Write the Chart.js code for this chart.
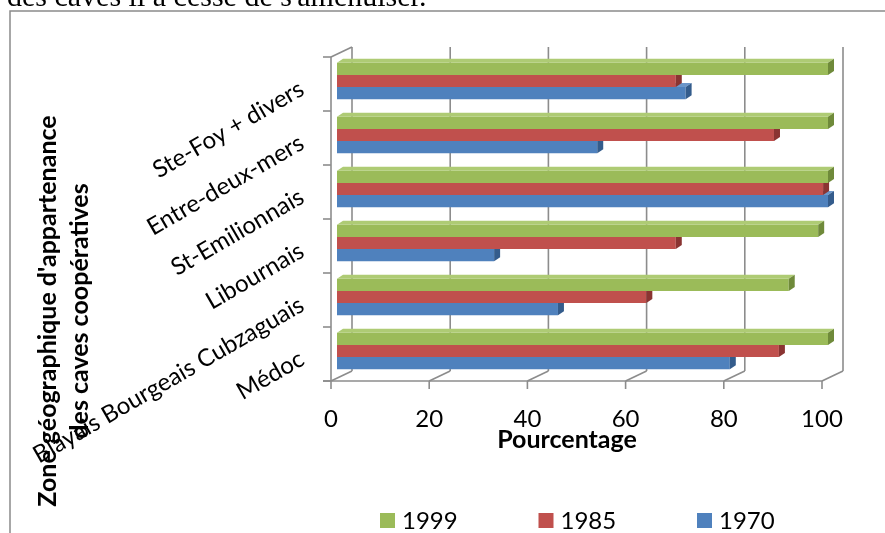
<!DOCTYPE html>
<html lang="fr">
<head>
<meta charset="utf-8">
<title>Caves coopératives par zone</title>
<script src="https://cdn.jsdelivr.net/npm/chart.js@4.4.1/dist/chart.umd.min.js"></script>
<style>
  html, body { margin: 0; padding: 0; background: #fff; overflow: hidden; }
  canvas { display: block; }
</style>
</head>
<body>
<canvas id="chart" width="885" height="533"></canvas>
<script>
// categories, listed bottom to top as in the original sheet
const zones = ['Médoc', 'Blayais Bourgeais Cubzaguais', 'Libournais', 'St-Emilionnais', 'Entre-deux-mers', 'Ste-Foy + divers'];
const years = ['1999', '1985', '1970'];
const pct1999 = [100, 92, 98, 100, 100, 100];
const pct1985 = [90, 63, 69, 99, 89, 69];
const pct1970 = [80, 45, 32, 100, 53, 71];
const xTicks = [0, 20, 40, 60, 80, 100];

const yTitle = ["Zone géographique d'appartenance", 'des caves coopératives'];
const xTitle = 'Pourcentage';
const pageText = "e des caves il a cessé de s'amenuiser.";

// office 2007 palette: front, top, end face
const palette = [
  { front: '#9BBB59', top: '#AECB74', side: '#6F8A3A' },
  { front: '#C0504D', top: '#CC6C69', side: '#8A3432' },
  { front: '#4F81BD', top: '#6C96C9', side: '#345C8C' }
];

const FONT = 'Lato, "Open Sans", sans-serif';
const LINE = '#8c8c8c';

// the 3d box: bars sit on one plane, axes on a front plane, grid on a back wall
const front = { dx: -6, dy: 3 };
const back = { dx: 15, dy: -7 };
const depth = { dx: 6, dy: -4 };

function line(ctx, x1, y1, x2, y2) {
  ctx.beginPath();
  ctx.moveTo(x1, y1);
  ctx.lineTo(x2, y2);
  ctx.stroke();
}

const page = {
  id: 'page',
  beforeDraw(chart) {
    const ctx = chart.ctx;
    ctx.save();
    ctx.fillStyle = '#fff';
    ctx.fillRect(0, 0, chart.width, chart.height);
    // text of the document, cut off above the chart
    ctx.font = '30px "Liberation Serif", serif';
    ctx.fillStyle = '#000';
    ctx.textBaseline = 'alphabetic';
    const lead = ctx.measureText('e ').width;
    ctx.fillText(pageText, 7 - lead, 6);
    // chart frame
    ctx.strokeStyle = '#8a8a8a';
    ctx.lineWidth = 1.5;
    ctx.strokeRect(10, 11, 1000, 600);
    ctx.restore();
  }
};

const walls = {
  id: 'walls',
  beforeDatasetsDraw(chart) {
    const { ctx, chartArea: a, scales: { x, y } } = chart;
    const fTop = a.top + front.dy, fBot = a.bottom + front.dy;
    const bTop = a.top + back.dy, bBot = a.bottom + back.dy;
    const fLeft = x.getPixelForValue(0) + front.dx;
    const fRight = x.getPixelForValue(100) + front.dx;
    ctx.save();
    ctx.strokeStyle = LINE;
    ctx.lineWidth = 1.6;
    xTicks.forEach(v => {
      const px = x.getPixelForValue(v);
      line(ctx, px + back.dx, bTop, px + back.dx, bBot);
      line(ctx, px + front.dx, fBot, px + back.dx, bBot);
      line(ctx, px + front.dx, fBot, px + front.dx, fBot + 8);
    });
    // left wall and floor edge
    line(ctx, fLeft, fTop, fLeft, fBot);
    line(ctx, fLeft, fTop, x.getPixelForValue(0) + back.dx, bTop);
    line(ctx, fLeft - 8, fBot, fRight, fBot);
    // category ticks
    const band = Math.abs(y.getPixelForValue(1) - y.getPixelForValue(0));
    for (let i = 0; i <= zones.length; i++) {
      const py = y.getPixelForValue(0) + band / 2 - i * band + front.dy;
      line(ctx, fLeft - 8, py, fLeft, py);
    }
    ctx.restore();
  }
};

const bars3d = {
  id: 'bars3d',
  afterDatasetDraw(chart, args) {
    const ctx = chart.ctx;
    const col = palette[args.index];
    ctx.save();
    args.meta.data.forEach(bar => {
      const { x, y, base, height } = bar.getProps(['x', 'y', 'base', 'height'], true);
      const top = y - height / 2, bottom = y + height / 2;
      ctx.fillStyle = col.top;
      ctx.beginPath();
      ctx.moveTo(base, top);
      ctx.lineTo(x, top);
      ctx.lineTo(x + depth.dx, top + depth.dy);
      ctx.lineTo(base + depth.dx, top + depth.dy);
      ctx.closePath();
      ctx.fill();
      ctx.fillStyle = col.side;
      ctx.beginPath();
      ctx.moveTo(x, top);
      ctx.lineTo(x + depth.dx, top + depth.dy);
      ctx.lineTo(x + depth.dx, bottom + depth.dy);
      ctx.lineTo(x, bottom);
      ctx.closePath();
      ctx.fill();
    });
    ctx.restore();
  }
};

const labels = {
  id: 'labels',
  afterDraw(chart) {
    const { ctx, chartArea: a, scales: { x, y } } = chart;
    ctx.save();
    ctx.fillStyle = '#000';

    // value axis
    ctx.font = '24px ' + FONT;
    ctx.textAlign = 'center';
    ctx.textBaseline = 'alphabetic';
    xTicks.forEach(v => {
      ctx.fillText(String(v), x.getPixelForValue(v) + front.dx, 427);
    });
    ctx.font = 'bold 25px ' + FONT;
    ctx.fillText(xTitle, 567, 448);

    // slanted category names
    ctx.font = '24px ' + FONT;
    ctx.textAlign = 'right';
    ctx.textBaseline = 'middle';
    zones.forEach((z, i) => {
      ctx.save();
      ctx.translate(a.left - 35, y.getPixelForValue(i) + front.dy + 3);
      ctx.rotate(-Math.PI / 6);
      ctx.fillText(z, 0, 0);
      ctx.restore();
    });

    // axis title, two lines
    ctx.font = 'bold 25px ' + FONT;
    ctx.textAlign = 'center';
    ctx.textBaseline = 'alphabetic';
    ctx.save();
    ctx.translate(56, 311);
    ctx.rotate(-Math.PI / 2);
    ctx.fillText(yTitle[0], 0, 0);
    ctx.fillText(yTitle[1], 0, 32);
    ctx.restore();

    // legend
    ctx.font = '24px ' + FONT;
    ctx.textAlign = 'left';
    chart.data.datasets.forEach((ds, i) => {
      const lx = 380 + i * 158.5;
      ctx.fillStyle = ds.backgroundColor;
      ctx.fillRect(lx, 513, 15, 15);
      ctx.fillStyle = '#000';
      ctx.fillText(ds.label, lx + 22, 529);
    });
    ctx.restore();
  }
};

new Chart(document.getElementById('chart'), {
  type: 'bar',
  data: {
    labels: zones,
    datasets: [
      { label: years[0], data: pct1999, backgroundColor: palette[0].front },
      { label: years[1], data: pct1985, backgroundColor: palette[1].front },
      { label: years[2], data: pct1970, backgroundColor: palette[2].front }
    ]
  },
  options: {
    indexAxis: 'y',
    responsive: false,
    animation: false,
    events: [],
    layout: { padding: { left: 337, right: 57, top: 54, bottom: 155 } },
    datasets: { bar: { barPercentage: 1, categoryPercentage: 0.68, borderWidth: 0 } },
    scales: {
      x: { min: 0, max: 100, display: false },
      y: { reverse: true, display: false }
    },
    plugins: {
      legend: { display: false },
      tooltip: { enabled: false }
    }
  },
  plugins: [page, walls, bars3d, labels]
});
</script>
</body>
</html>
